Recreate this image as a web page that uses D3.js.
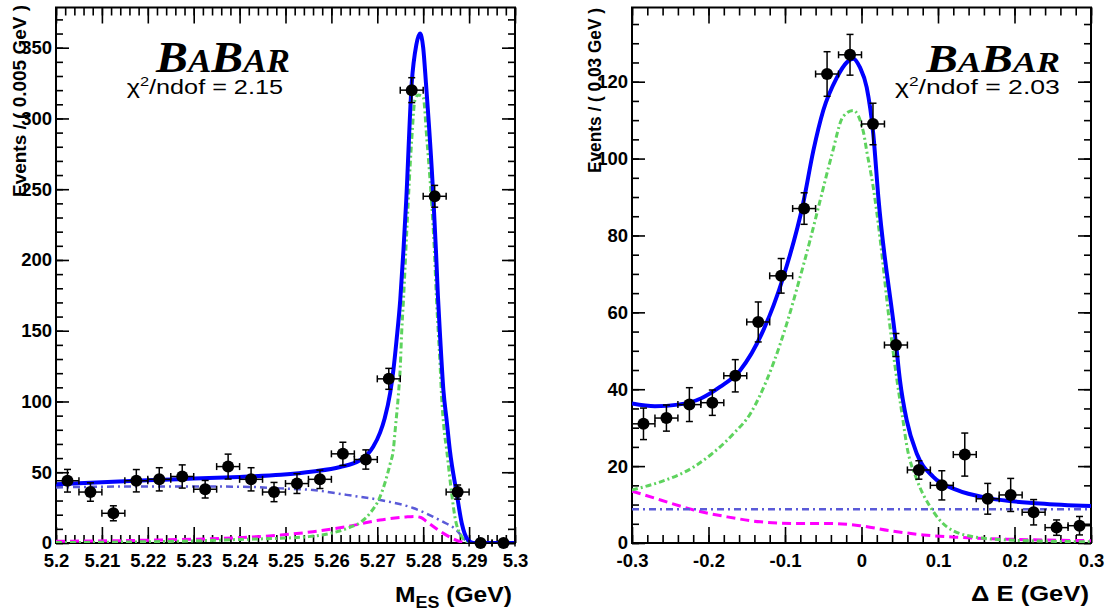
<!DOCTYPE html>
<html>
<head>
<meta charset="utf-8">
<script src="https://cdn.jsdelivr.net/npm/d3@7"></script>
<style>
  body { margin: 0; background: #fff; }
  svg { display: block; }
  .tl text { font-family: "Liberation Sans", Arial, sans-serif; font-weight: bold; font-size: 18.5px; fill: #000; }
  .tk line { stroke: #000; stroke-width: 1.6; }
</style>
</head>
<body>
<svg id="chart" width="1107" height="616"></svg>
<script>
// ---------------- DATA ----------------
// Left panel: M_ES
const massCenters = [5.2025,5.2075,5.2125,5.2175,5.2225,5.2275,5.2325,5.2375,5.2425,5.2475,
                     5.2525,5.2575,5.2625,5.2675,5.2725,5.2775,5.2825,5.2875,5.2925,5.2975];
const massEvents  = [44,36,21,44,45,47,38,54,45,36,42,45,63,59,116,320,245,36,0,0];
const massErrors  = [8,6.5,5.3,7.9,8.2,8.2,6.2,8.8,8.2,6.8,7,6.5,8.2,6.8,7.4,8.8,7.7,5,0,0];
const massTicks   = [5.2,5.21,5.22,5.23,5.24,5.25,5.26,5.27,5.28,5.29,5.3];
const massCountTicks = [0,50,100,150,200,250,300,350];

// fit components
const totalMassX = [5.200,5.210,5.220,5.230,5.240,5.249,5.256,5.2619,5.2662,5.2677,5.2691,5.2706,5.2716,5.2728,5.2735,5.2742,5.2750,5.2757,5.2763,5.2775,5.2785,5.2793,5.2800,5.2806,5.2822,5.2828,5.2832,5.2837,5.2844,5.2851,5.2858,5.2873,5.2884,5.2898,5.2910,5.3000];
const totalMassY = [41.5,43,44.3,45.5,46.7,48.2,50.5,53.7,58.5,62,68,78,88,106,122,143.5,171.7,207,242,325,352,360,350,325,245,205,175,145,108,87,65.7,35,14,2,0,0];
const sigMassX = [5.200,5.230,5.240,5.250,5.255,5.260,5.2640,5.2665,5.2684,5.2706,5.2728,5.2735,5.2739,5.2746,5.2750,5.2753,5.2757,5.2764,5.2775,5.2782,5.2789,5.2800,5.2808,5.2818,5.2824,5.2829,5.2833,5.2837,5.2840,5.2845,5.2851,5.2862,5.2869,5.2884,5.2895,5.2905,5.3000];
const sigMassY = [0.3,1.5,2.5,3.5,4.5,7,11,15,21,32.7,56,66,80,105,124,148,171.7,219,285,313,316.6,315,285,242,209,171.7,148,124.6,104,82,66,35,18.6,4.5,1,0,0];
const bkgMassX = [5.200,5.220,5.240,5.249,5.256,5.2633,5.2706,5.2778,5.2837,5.2873,5.2895,5.2900,5.3000];
const bkgMassY = [39.3,40,39.8,38.6,37.4,34,30.4,24.7,16,9,1,0,0];
const peakMassX = [5.200,5.220,5.240,5.249,5.256,5.2633,5.2706,5.2760,5.2780,5.2795,5.2808,5.2844,5.2880,5.2895,5.3000];
const peakMassY = [1.2,2,3.8,5.6,8,11.5,16.3,18.3,18.8,18,15,6.8,1,0,0];

// Right panel: Delta E
const deCenters = [-0.285,-0.255,-0.225,-0.195,-0.165,-0.135,-0.105,-0.075,-0.045,-0.015,
                   0.015,0.045,0.075,0.105,0.135,0.165,0.195,0.225,0.255,0.285];
const deEvents  = [31,32.5,36,36.5,43.5,57.5,69.5,87,122,127,109,51.5,19,15,23,11.5,12.5,8,4,4.5];
const deErrors  = [4.1,3.4,4.4,3.3,4.2,5.2,4.5,4.1,5.8,5.3,5.4,3,2.4,3.8,5.6,4,4.3,3.3,2,2.4];
const deTicks   = [-0.3,-0.2,-0.1,0,0.1,0.2,0.3];
const deCountTicks = [0,20,40,60,80,100,120];

const totalDeX = [-0.300,-0.270,-0.240,-0.210,-0.185,-0.1588,-0.1284,-0.1022,-0.0761,-0.063,-0.050,-0.0324,-0.0194,-0.0107,-0.002,0.0068,0.0154,0.022,0.045,0.0503,0.059,0.0722,0.0938,0.1244,0.168,0.2333,0.300];
const totalDeY = [36.3,35.6,36.0,37.6,40.6,44.9,55.3,69.2,88.5,102,112.5,121,125,126,123.7,118.5,106.4,90,52,42.3,32,23.3,17.2,13.8,11.6,10.3,9.6];
const sigDeX = [-0.300,-0.281,-0.2627,-0.2192,-0.1974,-0.167,-0.1451,-0.1327,-0.1153,-0.0978,-0.0826,-0.0673,-0.0542,-0.039,-0.0238,-0.0107,0.0024,0.0068,0.0154,0.025,0.035,0.0464,0.0529,0.0595,0.0725,0.0899,0.1117,0.1466,0.19,0.3];
const sigDeY = [13.8,14.8,15.9,19.8,22.9,28.5,33.7,38.4,46.7,57,67.5,78.7,89,100.8,111,112.5,107,102,92.5,78,60,42.3,33.7,25,16.4,9.4,4.2,1.6,0.8,0.3];
const bkgDeX = [-0.3,0.3];
const bkgDeY = [8.8,8.8];
const peakDeX = [-0.300,-0.2627,-0.2192,-0.1756,-0.1320,-0.0885,-0.0449,-0.002,0.0373,0.0809,0.1244,0.1898,0.300];
const peakDeY = [13.5,11.2,8.6,6.8,5.5,5.1,5.1,4.5,3.2,2.1,1.5,1.0,0.6];

// ---------------- DRAWING ----------------
const svg = d3.select("#chart");
svg.append("rect").attr("width",1107).attr("height",616).attr("fill","#fff");

const fmt = d => { const v = +(+d).toFixed(3); return (v < 0 ? "-" : "") + String(Math.abs(v)); };

function panel(opt) {
  const x = d3.scaleLinear().domain(opt.xDomain).range([opt.left, opt.right]);
  const y = d3.scaleLinear().domain(opt.yDomain).range([opt.bottom, opt.top]);
  const g = svg.append("g");
  const clipId = "clip" + opt.id;
  svg.append("clipPath").attr("id", clipId).append("rect")
    .attr("x", opt.left).attr("y", opt.top).attr("width", opt.right-opt.left).attr("height", opt.bottom-opt.top);

  const clean = s => s.call(a => a.select(".domain").remove());
  // bottom
  g.append("g").attr("class","tk tl").attr("transform",`translate(0,${opt.bottom})`)
    .call(d3.axisBottom(x).tickValues(opt.xMajor).tickSizeInner(-16).tickSizeOuter(0).tickPadding(11).tickFormat(fmt)).call(clean);
  g.append("g").attr("class","tk").attr("transform",`translate(0,${opt.bottom})`)
    .call(d3.axisBottom(x).tickValues(opt.xMinor).tickSizeInner(-8).tickSizeOuter(0).tickFormat("")).call(clean);
  // top
  g.append("g").attr("class","tk").attr("transform",`translate(0,${opt.top})`)
    .call(d3.axisTop(x).tickValues(opt.xMajor).tickSizeInner(-16).tickSizeOuter(0).tickFormat("")).call(clean);
  g.append("g").attr("class","tk").attr("transform",`translate(0,${opt.top})`)
    .call(d3.axisTop(x).tickValues(opt.xMinor).tickSizeInner(-8).tickSizeOuter(0).tickFormat("")).call(clean);
  // left
  g.append("g").attr("class","tk tl").attr("transform",`translate(${opt.left},0)`)
    .call(d3.axisLeft(y).tickValues(opt.yMajor).tickSizeInner(-13).tickSizeOuter(0).tickPadding(4).tickFormat(fmt)).call(clean);
  g.append("g").attr("class","tk").attr("transform",`translate(${opt.left},0)`)
    .call(d3.axisLeft(y).tickValues(opt.yMinor).tickSizeInner(-7).tickSizeOuter(0).tickFormat("")).call(clean);
  // right
  g.append("g").attr("class","tk").attr("transform",`translate(${opt.right},0)`)
    .call(d3.axisRight(y).tickValues(opt.yMajor).tickSizeInner(-13).tickSizeOuter(0).tickFormat("")).call(clean);
  g.append("g").attr("class","tk").attr("transform",`translate(${opt.right},0)`)
    .call(d3.axisRight(y).tickValues(opt.yMinor).tickSizeInner(-7).tickSizeOuter(0).tickFormat("")).call(clean);

  // frame
  g.append("rect").attr("x",opt.left).attr("y",opt.top).attr("width",opt.right-opt.left).attr("height",opt.bottom-opt.top)
    .attr("fill","none").attr("stroke","#000").attr("stroke-width",2);

  // curves
  const cg = g.append("g").attr("clip-path",`url(#${clipId})`);
  const line = d3.line().x(d=>x(d[0])).y(d=>y(d[1])).curve(d3.curveMonotoneX);
  opt.curves.forEach(c => {
    cg.append("path").datum(d3.zip(c.xs, c.ys)).attr("d", line)
      .attr("fill","none").attr("stroke",c.color).attr("stroke-width",c.width)
      .attr("stroke-dasharray",c.dash || null).attr("stroke-linejoin","round");
  });

  // points
  const pg = g.append("g").attr("stroke","#000").attr("stroke-width",1.5).attr("fill","#000");
  opt.px.forEach((cx,i) => {
    const cy = opt.py[i], e = opt.pe[i];
    const X = x(cx), Y = y(cy), x1 = x(cx-opt.half), x2 = x(cx+opt.half);
    pg.append("line").attr("x1",x1).attr("x2",x2).attr("y1",Y).attr("y2",Y);
    pg.append("line").attr("x1",x1).attr("x2",x1).attr("y1",Y-3.5).attr("y2",Y+3.5);
    pg.append("line").attr("x1",x2).attr("x2",x2).attr("y1",Y-3.5).attr("y2",Y+3.5);
    if (e > 0) {
      const yt = y(cy+e), yb = y(cy-e);
      pg.append("line").attr("x1",X).attr("x2",X).attr("y1",yt).attr("y2",yb);
      pg.append("line").attr("x1",X-3.5).attr("x2",X+3.5).attr("y1",yt).attr("y2",yt);
      pg.append("line").attr("x1",X-3.5).attr("x2",X+3.5).attr("y1",yb).attr("y2",yb);
    }
    pg.append("circle").attr("cx",X).attr("cy",Y).attr("r",6).attr("stroke","none");
  });
  return {x, y, g};
}

function fitWidth(sel, left, right) {
  const bb = sel.node().getBBox();
  const s = (right-left)/bb.width;
  sel.attr("transform", `translate(${left},0) scale(${s},1) translate(${-bb.x},0)`);
}

const BLUE = "#0000ff", DASHBLUE = "#5a5ad8", GREEN = "#5ed35e", MAG = "#ff00ff";

panel({
  id: "L", left: 56, right: 515, top: 7.5, bottom: 543,
  xDomain: [5.2, 5.3], yDomain: [0, 378.4],
  xMajor: massTicks, xMinor: d3.range(0,51).map(i => 5.2 + i*0.002),
  yMajor: massCountTicks, yMinor: d3.range(0, 380, 10),
  px: massCenters, py: massEvents, pe: massErrors, half: 0.0025,
  curves: [
    {xs: peakMassX, ys: peakMassY, color: MAG, width: 3, dash: "9,5"},
    {xs: bkgMassX, ys: bkgMassY, color: DASHBLUE, width: 2.5, dash: "7,4,2,4"},
    {xs: sigMassX, ys: sigMassY, color: GREEN, width: 3, dash: "6,3,2,3"},
    {xs: totalMassX, ys: totalMassY, color: BLUE, width: 4}
  ]
});

panel({
  id: "R", left: 632, right: 1091, top: 7.5, bottom: 543,
  xDomain: [-0.3, 0.3], yDomain: [0, 139.3],
  xMajor: deTicks, xMinor: d3.range(0,31).map(i => -0.3 + i*0.02),
  yMajor: deCountTicks, yMinor: d3.range(0, 140, 5),
  px: deCenters, py: deEvents, pe: deErrors, half: 0.015,
  curves: [
    {xs: peakDeX, ys: peakDeY, color: MAG, width: 3, dash: "9,5"},
    {xs: bkgDeX, ys: bkgDeY, color: DASHBLUE, width: 2.5, dash: "7,4,2,4"},
    {xs: sigDeX, ys: sigDeY, color: GREEN, width: 3, dash: "6,3,2,3"},
    {xs: totalDeX, ys: totalDeY, color: BLUE, width: 4}
  ]
});

// Y-axis titles
const sans = '"Liberation Sans", Arial, sans-serif';
svg.append("text").attr("transform","translate(26,5) rotate(-90)").attr("text-anchor","end")
  .attr("font-family",sans).attr("font-weight","bold").attr("font-size",19)
  .attr("textLength",192).attr("lengthAdjust","spacingAndGlyphs")
  .text("Events / ( 0.005 GeV )");
svg.append("text").attr("transform","translate(601,8) rotate(-90)").attr("text-anchor","end")
  .attr("font-family",sans).attr("font-weight","bold").attr("font-size",19)
  .attr("textLength",165).attr("lengthAdjust","spacingAndGlyphs")
  .text("Events / ( 0.03 GeV )");

// X-axis titles
const tx1 = svg.append("text").attr("y",602.5).attr("font-family",sans).attr("font-weight","bold").attr("font-size",22);
tx1.append("tspan").text("M");
tx1.append("tspan").attr("font-size",16).attr("dy",5.5).text("ES");
tx1.append("tspan").attr("dy",-5.5).text(" (GeV)");
fitWidth(tx1, 395, 512);

const tx2 = svg.append("text").attr("y",601.5).attr("font-family",sans).attr("font-weight","bold").attr("font-size",22)
  .text("\u0394 E (GeV)");
fitWidth(tx2, 971, 1089);

// BaBar logos
function logo(left, right, big, small) {
  const t = svg.append("text").attr("y",71.7).attr("font-family",'"Liberation Serif", "Times New Roman", serif')
    .attr("font-weight","bold").attr("font-style","italic").attr("font-size",big);
  t.append("tspan").text("B");
  t.append("tspan").attr("font-size",small).text("A");
  t.append("tspan").text("B");
  t.append("tspan").attr("font-size",small).text("AR");
  fitWidth(t, left, right);
}
logo(155, 290, 45, 33);
logo(925, 1060, 39, 29);

// chi2 labels
function chi(left, right, val) {
  const t = svg.append("text").attr("y",94.3).attr("font-family",sans).attr("font-size",20);
  t.append("tspan").text("\u03C7");
  t.append("tspan").attr("font-size",13).attr("dy",-8).text("2");
  t.append("tspan").attr("dy",8).text("/ndof = " + val);
  fitWidth(t, left, right);
}
chi(126.7, 283, "2.15");
chi(895, 1060, "2.03");
</script>
</body>
</html>
